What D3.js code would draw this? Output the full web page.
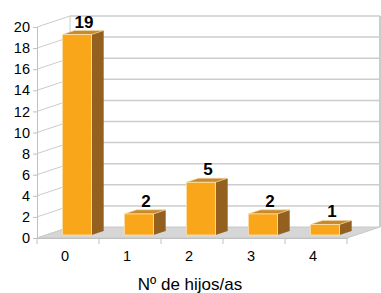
<!DOCTYPE html>
<html>
<head>
<meta charset="utf-8">
<script src="https://cdn.jsdelivr.net/npm/d3@7"></script>
<style>
  body { margin: 0; background: #fff; }
  svg { display: block; font-family: "Liberation Sans", Arial, sans-serif; }
</style>
</head>
<body>
<div id="chart"></div>
<script>
const categories = ["0", "1", "2", "3", "4"];
const values = [19, 2, 5, 2, 1];
const yTicks = [0, 2, 4, 6, 8, 10, 12, 14, 16, 18, 20];
const xTitle = "Nº de hijos/as";

const width = 381, height = 293;
const svg = d3.select("#chart").append("svg")
  .attr("width", width)
  .attr("height", height);

// front plane
const x = d3.scaleBand().domain(categories).range([37, 347]);
const y = d3.scaleLinear().domain([0, 20]).range([238, 27]);
// depth offset
const depthX = 33, depthY = -11;
const off = t => [depthX * t, depthY * t];

const gridColor = "#cccccc";

// floor
const [bx, by] = off(1);
svg.append("path")
  .attr("d", `M${x.range()[0]},${y(0)} L${x.range()[1]},${y(0)} L${x.range()[1] + bx},${y(0) + by} L${x.range()[0] + bx},${y(0) + by} Z`)
  .attr("fill", "#d6d6d6")
  .attr("stroke", "#c8c8c8");

// back wall and left wall gridlines
const grid = svg.append("g");
yTicks.forEach(v => {
  grid.append("line")
    .attr("x1", x.range()[0]).attr("y1", y(v))
    .attr("x2", x.range()[0] + bx).attr("y2", y(v) + by)
    .attr("stroke", gridColor);
  if (v > 0) {
    grid.append("line")
      .attr("x1", x.range()[0] + bx).attr("y1", y(v) + by)
      .attr("x2", x.range()[1] + bx).attr("y2", y(v) + by)
      .attr("stroke", gridColor).attr("stroke-width", 1.5);
  }
});
grid.append("line")
  .attr("x1", x.range()[0] + bx).attr("y1", y(20) + by)
  .attr("x2", x.range()[0] + bx).attr("y2", y(0) + by)
  .attr("stroke", gridColor);
grid.append("line")
  .attr("x1", x.range()[1] + bx).attr("y1", y(20) + by)
  .attr("x2", x.range()[1] + bx).attr("y2", y(0) + by)
  .attr("stroke", gridColor).attr("stroke-width", 2);

// y axis
const yAxis = svg.append("g")
  .attr("transform", `translate(${x.range()[0]},0)`)
  .call(d3.axisLeft(y).tickValues(yTicks).tickSize(4).tickPadding(3));
yAxis.select(".domain").attr("stroke", "#c0c0c0");
yAxis.selectAll(".tick line").attr("stroke", "#c0c0c0");
yAxis.selectAll("text").style("font-size", "14.5px").attr("fill", "#000");

// x axis
const xAxis = svg.append("g")
  .attr("transform", `translate(0,${y(0)})`)
  .call(d3.axisBottom(x).tickSize(0).tickPadding(13));
xAxis.select(".domain").attr("stroke", "#c0c0c0");
xAxis.selectAll("text").style("font-size", "14.5px").attr("fill", "#000")
  .attr("dx", -3);
[...categories.map(c => x(c)), x.range()[1]].forEach(px => {
  xAxis.append("line")
    .attr("x1", px).attr("x2", px)
    .attr("y1", 0).attr("y2", 6)
    .attr("stroke", "#c0c0c0");
});

svg.append("text")
  .attr("x", 190).attr("y", 290)
  .attr("text-anchor", "middle")
  .style("font-size", "17px")
  .text(xTitle);

// bars
const t0 = 0.27, t1 = 0.64;
const barW = x.bandwidth() * 0.47;
const bars = svg.append("g");
categories.forEach((c, i) => {
  const v = values[i];
  const [fx, fy] = off(t0);
  const [kx, ky] = off(t1);
  const left = x(c) + (x.bandwidth() - barW) / 2 + fx;
  const right = left + barW;
  const bot = y(0) + fy;
  const top = y(v) + fy;
  const dx = kx - fx, dy = ky - fy;
  const g = bars.append("g");
  g.append("path")
    .attr("d", `M${right},${bot} L${right + dx},${bot + dy} L${right + dx},${top + dy} L${right},${top} Z`)
    .attr("fill", "#93601f");
  g.append("path")
    .attr("d", `M${left},${top} L${right},${top} L${right + dx},${top + dy} L${left + dx},${top + dy} Z`)
    .attr("fill", "#c98a2c")
    .attr("stroke", "#f2d9a8").attr("stroke-width", 0.6);
  g.append("rect")
    .attr("x", left).attr("y", top)
    .attr("width", barW).attr("height", bot - top)
    .attr("fill", "#f9a61b")
    .attr("stroke", "#fbe3b8").attr("stroke-width", 0.8);
  g.append("text")
    .attr("x", left + barW / 2 + dx / 2 + 1)
    .attr("y", top + dy - 3)
    .attr("text-anchor", "middle")
    .style("font-size", "17px")
    .style("font-weight", "bold")
    .text(v);
});
</script>
</body>
</html>
